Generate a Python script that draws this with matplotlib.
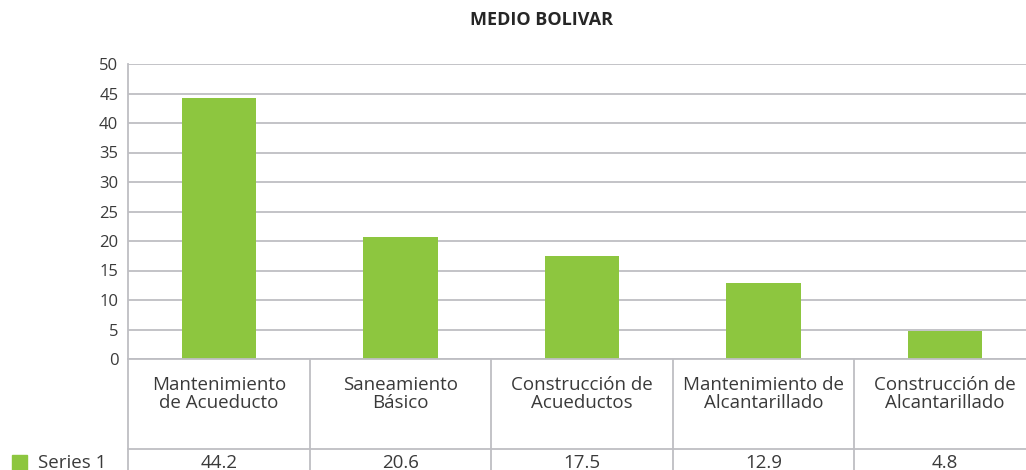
import matplotlib
matplotlib.use("Agg")
import matplotlib.pyplot as plt
from matplotlib.patches import Rectangle

plt.rcParams['font.family'] = ['Open Sans', 'DejaVu Sans']

title = "MEDIO BOLIVAR"
categories = ["Mantenimiento\nde Acueducto", "Saneamiento\nBásico", "Construcción de\nAcueductos",
              "Mantenimiento de\nAlcantarillado", "Construcción de\nAlcantarillado"]
values = [44.2, 20.6, 17.5, 12.9, 4.8]
value_labels = ["44.2", "20.6", "17.5", "12.9", "4.8"]
series_name = "Series 1"
yticks = [0, 5, 10, 15, 20, 25, 30, 35, 40, 45, 50]

W, H = 1026, 470
bar_color = "#8DC63F"
grid_color = "#BEBEC3"
text_color = "#3A3A3A"
fs = 13.5

fig = plt.figure(figsize=(W / 100, H / 100), dpi=100)
left, right, top, bottom = 128, 1036, 64, 359
ax = fig.add_axes([left / W, (H - bottom) / H, (right - left) / W, (bottom - top) / H])

x = list(range(len(values)))
ax.bar(x, values, width=0.41, color=bar_color, zorder=3)
ax.set_xlim(-0.5, len(values) - 0.5)
ax.set_ylim(0, 50)
ax.set_yticks(yticks)
ax.set_yticklabels([str(t) for t in yticks], fontsize=12, color=text_color)
ax.tick_params(axis='y', length=0, pad=7)
ax.set_xticks([])
ax.yaxis.grid(True, color=grid_color, linewidth=1.3, zorder=0)
for s in ['top', 'right', 'bottom']:
    ax.spines[s].set_visible(False)
ax.spines['left'].set_color(grid_color)
ax.spines['left'].set_linewidth(1.3)

# data table
tr = ax.get_xaxis_transform()
hpx = bottom - top
row1 = -(449 - bottom) / hpx
ybot = -(480 - bottom) / hpx
ax.plot([-0.5, len(values) - 0.5], [0, 0], transform=tr, color=grid_color, lw=1.3, clip_on=False, zorder=4)
ax.plot([-0.5, len(values) - 0.5], [row1, row1], transform=tr, color=grid_color, lw=1.3, clip_on=False)
for k in range(len(values) + 1):
    ax.plot([k - 0.5, k - 0.5], [0, ybot], transform=tr, color=grid_color, lw=1.3, clip_on=False)
cat_y = -(394 - bottom) / hpx
val_y = -(463 - bottom) / hpx
for i, (c, v) in enumerate(zip(categories, value_labels)):
    ax.text(i, cat_y, c, transform=tr, ha='center', va='center', fontsize=fs,
            color=text_color, linespacing=0.98)
    ax.text(i, val_y, v, transform=tr, ha='center', va='center', fontsize=fs, color=text_color)

# legend key
fig.patches.append(Rectangle((12 / W, 0), 15 / W, 15 / H, transform=fig.transFigure,
                             color=bar_color, figure=fig))
fig.text(38 / W, (H - 463) / H, series_name, ha='left', va='center', fontsize=fs, color=text_color)

fig.text(541 / W, (H - 20) / H, title, ha='center', va='center', fontsize=13,
         fontweight='bold', color='#262626')

fig.savefig("out.png", dpi=100)
